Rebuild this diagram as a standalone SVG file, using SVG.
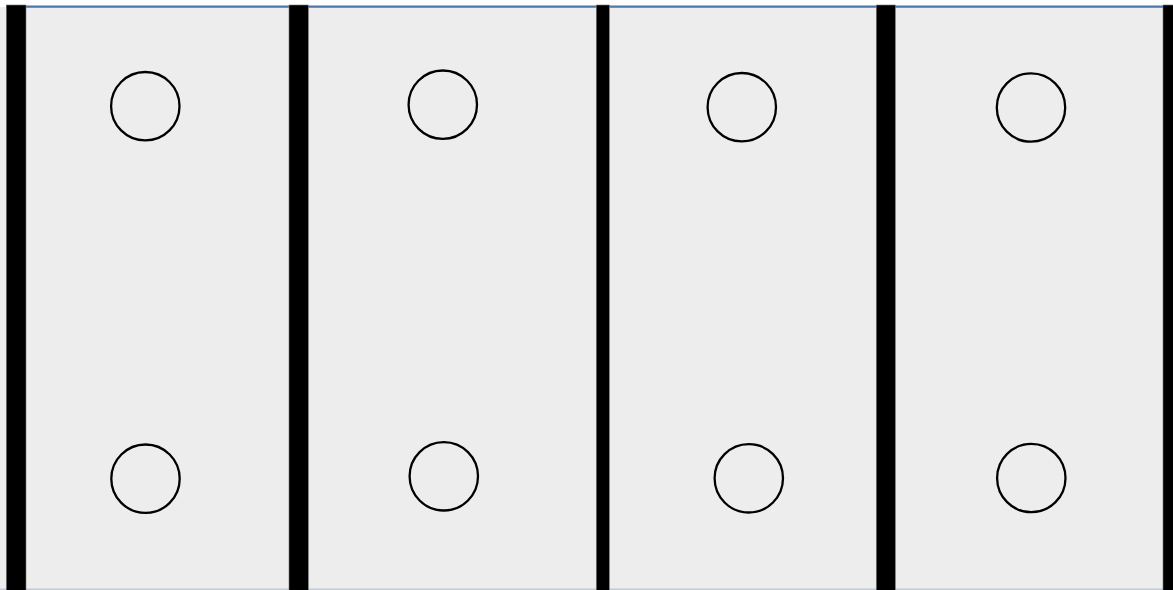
<svg xmlns="http://www.w3.org/2000/svg" width="1173" height="590" viewBox="0 0 1173 590">
<style>
.bg{fill:#ededed}
.bar{fill:#000;stroke:#777;stroke-width:0.6}
.hole{fill:none;stroke:#000;stroke-width:2.3}
</style>
<rect width="1173" height="590" fill="#fff"/>
<rect class="bg" x="0" y="7" width="1173" height="582"/>
<line x1="0" y1="589.2" x2="1173" y2="589.2" stroke="#c4cad4" stroke-width="1.6"/>
<line x1="6" y1="6.6" x2="1168" y2="6.6" stroke="#4a76a8" stroke-width="2.4"/>
<g id="bars">
<rect id="bar1" class="bar" x="6.3" y="5" width="19.7" height="586"/>
<rect id="bar2" class="bar" x="289" y="5" width="19.3" height="586"/>
<rect id="bar3" class="bar" x="596.3" y="5" width="13" height="586"/>
<rect id="bar4" class="bar" x="876.3" y="5" width="19" height="586"/>
<rect id="bar5" class="bar" x="1163" y="5" width="12" height="586"/>
</g>
<g id="holes">
<circle id="h1" class="hole" cx="145.3" cy="106.2" r="34.2"/>
<circle id="h2" class="hole" cx="442.8" cy="104.7" r="34.2"/>
<circle id="h3" class="hole" cx="741.8" cy="107.2" r="34.2"/>
<circle id="h4" class="hole" cx="1031" cy="107.5" r="34.2"/>
<circle id="h5" class="hole" cx="145.5" cy="478.7" r="34.2"/>
<circle id="h6" class="hole" cx="443.8" cy="476.3" r="34.2"/>
<circle id="h7" class="hole" cx="748.8" cy="478.3" r="34.2"/>
<circle id="h8" class="hole" cx="1031.3" cy="478" r="34.2"/>
</g>
<g id="connectors"/>
</svg>
